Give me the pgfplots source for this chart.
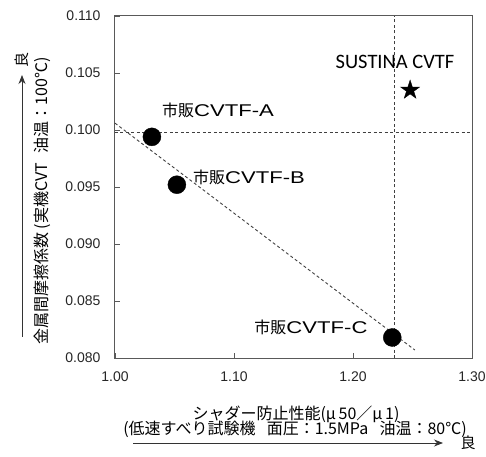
\documentclass[border=0pt]{standalone}
\usepackage{fontspec}
\setmainfont{Liberation Sans}
\newfontfamily\cjk{Noto Sans CJK JP}
\newfontfamily\wide[FakeStretch=1.3]{Liberation Sans}
\newfontfamily\carlito{Carlito}
\usepackage{pgfplots}
\pgfplotsset{compat=1.18}
\usetikzlibrary{arrows.meta}

\pgfdeclareplotmark{fstar}{%
  \pgfpathmoveto{\pgfpointpolar{90}{\pgfplotmarksize}}%
  \pgfpathlineto{\pgfpointpolar{126}{0.382\pgfplotmarksize}}%
  \pgfpathlineto{\pgfpointpolar{162}{\pgfplotmarksize}}%
  \pgfpathlineto{\pgfpointpolar{198}{0.382\pgfplotmarksize}}%
  \pgfpathlineto{\pgfpointpolar{234}{\pgfplotmarksize}}%
  \pgfpathlineto{\pgfpointpolar{270}{0.382\pgfplotmarksize}}%
  \pgfpathlineto{\pgfpointpolar{306}{\pgfplotmarksize}}%
  \pgfpathlineto{\pgfpointpolar{342}{0.382\pgfplotmarksize}}%
  \pgfpathlineto{\pgfpointpolar{18}{\pgfplotmarksize}}%
  \pgfpathlineto{\pgfpointpolar{54}{0.382\pgfplotmarksize}}%
  \pgfpathclose\pgfusepathqfillstroke}

\begin{document}
\begin{tikzpicture}
\begin{axis}[
  at={(0,0)}, anchor=south west,
  scale only axis, width=357bp, height=342bp,
  xmin=1.0, xmax=1.3, ymin=0.08, ymax=0.11,
  xtick={1.0,1.1,1.2,1.3},
  ytick={0.080,0.085,0.090,0.095,0.100,0.105,0.110},
  scaled x ticks=false, scaled y ticks=false,
  xtick pos=left, ytick pos=left,
  tick align=inside,
  major tick length=5bp,
  axis line style={black!65, line width=1bp},
  every tick/.style={black!65, line width=0.8bp},
  /pgf/number format/assume math mode=true,
  ticklabel style={font=\fontsize{14bp}{16bp}\selectfont, text=black!85},
  x tick label style={yshift=-10bp, /pgf/number format/.cd, fixed, fixed zerofill, precision=2, /tikz/.cd},
  y tick label style={xshift=-11bp, /pgf/number format/.cd, fixed, fixed zerofill, precision=3, /tikz/.cd},
  clip=false,
]
\addplot[no marks, black!75, line width=0.9bp, dash pattern=on 3bp off 2.5bp] coordinates {(1.0,0.0998) (1.3,0.0998)};
\addplot[no marks, black!75, line width=0.9bp, dash pattern=on 3bp off 2.5bp] coordinates {(1.235,0.080) (1.235,0.110)};
\addplot[no marks, black!75, line width=0.9bp, dash pattern=on 3bp off 2.5bp] coordinates {(1.0,0.1006) (1.252,0.0807)};
\addplot[only marks, mark=*, mark size=9bp, black] coordinates {(1.031,0.0994) (1.052,0.0952) (1.233,0.0818)};
\addplot[only marks, mark=fstar, mark size=10bp, black] coordinates {(1.248,0.1035)};
\node[font=\fontsize{17bp}{20bp}\selectfont] at (axis cs:1.0866,0.10175) {{\cjk\fontsize{16bp}{18bp}\selectfont 市販}\wide CVTF-A};
\node[font=\fontsize{17bp}{20bp}\selectfont, anchor=west, inner sep=0pt] at (axis cs:1.0655,0.0958) {{\cjk\fontsize{16bp}{18bp}\selectfont 市販}\wide CVTF-B};
\node[font=\fontsize{17bp}{20bp}\selectfont] at (axis cs:1.1647,0.0827) {{\cjk\fontsize{16bp}{18bp}\selectfont 市販}\wide CVTF-C};
\node[font=\carlito\fontsize{20.5bp}{24bp}\selectfont] at (axis cs:1.2353,0.10596) {SUSTINA CVTF};
\end{axis}
% y-axis title and arrow
\draw[-{Stealth[length=9bp,width=7bp]}, line width=0.8bp, black!80] (-93bp,21bp) -- (-93bp,283bp);
\node[rotate=90, font=\cjk\fontsize{15bp}{18bp}\selectfont] at (-93bp,298bp) {良};
\node[rotate=90, font=\cjk\fontsize{16bp}{18bp}\selectfont] at (-73bp,157bp) {金属間摩擦係数 (実機CVT\hspace{0.6em}油温：100℃)};
% x-axis title and arrow
\node[font=\cjk\fontsize{16bp}{18bp}\selectfont] at (181bp,-56bp) {シャダー防止性能(μ\,50／μ\,1)};
\node[font=\cjk\fontsize{16bp}{18bp}\selectfont] at (180bp,-71bp) {(低速すべり試験機\hspace{0.7em}面圧：1.5MPa\hspace{0.7em}油温：80℃)};
\draw[-{Stealth[length=9bp,width=7bp]}, line width=0.8bp, black!80] (18bp,-85bp) -- (328bp,-85bp);
\node[font=\cjk\fontsize{15bp}{18bp}\selectfont] at (353bp,-85bp) {良};
\pgfresetboundingbox
\useasboundingbox (-115bp,-99bp) rectangle (371bp,358bp);
\end{tikzpicture}
\end{document}
